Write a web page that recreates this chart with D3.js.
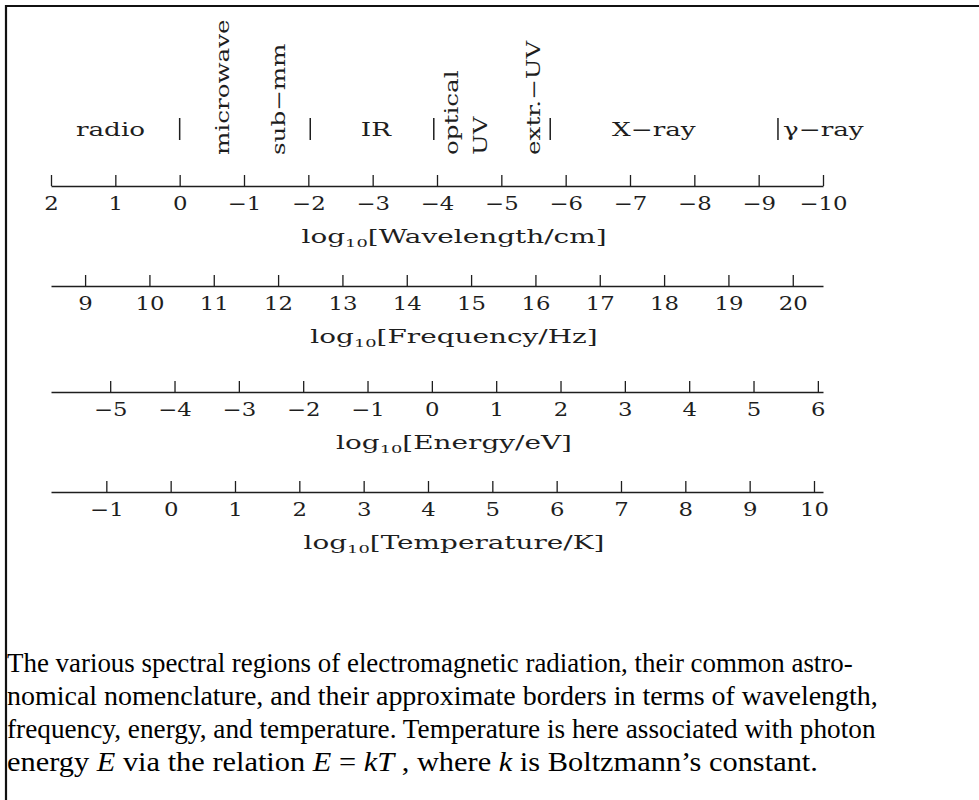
<!DOCTYPE html>
<html>
<head>
<meta charset="utf-8">
<script src="https://cdn.jsdelivr.net/npm/d3@7"></script>
<style>
  html, body { margin: 0; padding: 0; background: #fff; }
  svg { display: block; }
</style>
</head>
<body>
<svg id="chart" width="979" height="800"></svg>
<script>
// ---- values ---------------------------------------------------------------
// each axis spans the same photon range, expressed in log10 units
const wavelengthDomain  = [2, -10];        // log10(λ / cm)
const frequencyDomain   = [8.47, 20.47];   // log10(ν / Hz)
const energyDomain      = [-5.92, 6.08];   // log10(E / eV)
const temperatureDomain = [-1.86, 10.14];  // log10(T / K)

const wavelengthTicks  = [2, 1, 0, -1, -2, -3, -4, -5, -6, -7, -8, -9, -10];
const frequencyTicks   = [9, 10, 11, 12, 13, 14, 15, 16, 17, 18, 19, 20];
const energyTicks      = [-5, -4, -3, -2, -1, 0, 1, 2, 3, 4, 5, 6];
const temperatureTicks = [-1, 0, 1, 2, 3, 4, 5, 6, 7, 8, 9, 10];

const axisNames = ["Wavelength/cm", "Frequency/Hz", "Energy/eV", "Temperature/K"];

// spectral regions written along the wavelength axis (log10 λ/cm)
const flatRegionNames = ["radio", "IR", "X\u2212ray"];
const flatRegionAt    = [1.075, -3.05, -7.37];
const uprightRegionNames = ["microwave", "sub\u2212mm", "optical", "UV", "extr.\u2212UV"];
const uprightRegionAt    = [-0.76, -1.64, -4.33, -4.77, -5.60];
const borderAt = [0, -2.03, -3.95, -5.76, -9.30];
const gammaName = "\u03b3\u2212ray";

const captionLines = [
  [["The various spectral regions of electromagnetic radiation, their common astro-", false]],
  [["nomical nomenclature, and their approximate borders in terms of wavelength,", false]],
  [["frequency, energy, and temperature. Temperature is here associated with photon", false]],
  [["energy ", false], ["E", true], [" via the relation ", false], ["E", true], [" = ", false],
   ["kT", true], [" , where ", false], ["k", true], [" is Boltzmann\u2019s constant.", false]]
];

// ---- layout ---------------------------------------------------------------
const ink = "#1e1e1e";
const plotFont = "'DejaVu Serif', serif";
const xLeft = 51, xRight = 823;
const axisY = [186, 286, 392, 492];
const tickLen = 11;
const labelStretch = 1.42, titleStretch = 1.55, tickStretch = 1.2;

const svg = d3.select("#chart");

// page frame (top rule and left rule)
svg.append("line").attr("x1", 5).attr("x2", 979).attr("y1", 6).attr("y2", 6)
  .attr("stroke", "#111").attr("stroke-width", 2.2);
svg.append("line").attr("x1", 6).attr("x2", 6).attr("y1", 5).attr("y2", 800)
  .attr("stroke", "#111").attr("stroke-width", 2.2);

const scales = [wavelengthDomain, frequencyDomain, energyDomain, temperatureDomain]
  .map(d => d3.scaleLinear().domain(d).range([xLeft, xRight]));
const tickSets = [wavelengthTicks, frequencyTicks, energyTicks, temperatureTicks];

scales.forEach((sc, i) => {
  const g = svg.append("g").attr("transform", `translate(0,${axisY[i]})`);
  g.call(d3.axisBottom(sc).tickValues(tickSets[i]).tickSize(-tickLen).tickSizeOuter(0)
    .tickFormat(d3.format("d")));
  g.select(".domain").attr("stroke", ink).attr("stroke-width", 1.6);
  g.selectAll(".tick line").attr("stroke", ink).attr("stroke-width", 1.3);
  g.selectAll(".tick text")
    .attr("y", null).attr("dy", null)
    .attr("transform", `translate(0,23.5) scale(${tickStretch},1)`)
    .attr("fill", ink)
    .style("font-family", plotFont).style("font-size", "19px");

  // axis title with subscripted log base
  const t = svg.append("text")
    .attr("transform", `translate(454,${axisY[i] + 57}) scale(${titleStretch},1)`)
    .attr("text-anchor", "middle").attr("fill", ink)
    .style("font-family", plotFont).style("font-size", "18px");
  t.append("tspan").text("log");
  t.append("tspan").attr("dy", 4).style("font-size", "11.5px").text("10");
  t.append("tspan").attr("dy", -4).text(`[${axisNames[i]}]`);
});

const xw = scales[0];
const labelBase = 136, uprightBottom = 155;

// horizontal region names
svg.selectAll("text.flat").data(flatRegionNames).join("text").attr("class", "flat")
  .attr("transform", (d, i) => `translate(${xw(flatRegionAt[i])},${labelBase}) scale(${labelStretch},1)`)
  .attr("text-anchor", "middle").attr("fill", ink)
  .style("font-family", plotFont).style("font-size", "18.5px")
  .text(d => d);

// vertical region names
svg.selectAll("text.upright").data(uprightRegionNames).join("text").attr("class", "upright")
  .attr("transform", (d, i) =>
    `translate(${xw(uprightRegionAt[i])},${uprightBottom}) rotate(-90) scale(1.33,1)`)
  .attr("text-anchor", "start").attr("fill", ink)
  .style("font-family", plotFont).style("font-size", "18.5px")
  .text(d => d);

// region borders
svg.selectAll("line.border").data(borderAt).join("line").attr("class", "border")
  .attr("x1", d => xw(d)).attr("x2", d => xw(d))
  .attr("y1", 118).attr("y2", 140)
  .attr("stroke", ink).attr("stroke-width", 1.5);

svg.append("text")
  .attr("transform", `translate(${xw(borderAt[4]) + 5},${labelBase}) scale(${labelStretch},1)`)
  .attr("fill", ink).style("font-family", plotFont).style("font-size", "18.5px")
  .text(gammaName);

// ---- caption --------------------------------------------------------------
const capLeft = 7, capBase = 672, capStep = 33;
const capWidths = [846, 871, 869, 811];
captionLines.forEach((parts, i) => {
  const t = svg.append("text")
    .attr("x", 0).attr("y", 0).attr("fill", "#000")
    .style("font-family", "'Liberation Serif'")
    .style("font-size", "28px");
  parts.forEach(([s, it]) => {
    t.append("tspan").style("font-style", it ? "italic" : "normal").text(s);
  });
  const w = t.node().getComputedTextLength();
  t.attr("transform", `translate(${capLeft},${capBase + i * capStep}) scale(${capWidths[i] / w},1)`);
});
</script>
</body>
</html>
